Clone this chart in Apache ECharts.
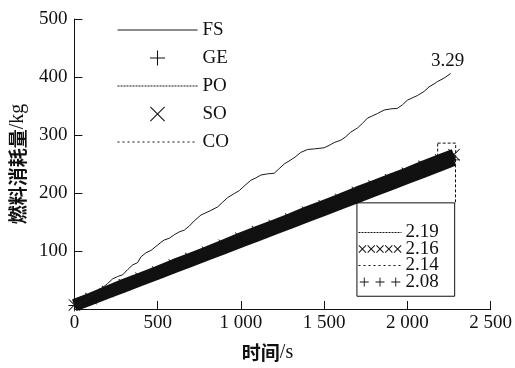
<!DOCTYPE html>
<html>
<head>
<meta charset="utf-8">
<script src="https://cdn.jsdelivr.net/npm/echarts@6/dist/echarts.min.js"></script>
<style>
  html, body { margin: 0; padding: 0; background: #fff; }
  #chart { width: 515px; height: 368px; }
</style>
</head>
<body>
<div id="chart"></div>
<script>
// Fuel consumption over time for five operating strategies
const fsTime = [0, 40, 80, 120, 140, 170, 200, 230, 260, 290, 320, 350, 380, 400, 430, 460, 490, 520, 540,
  570, 600, 630, 660, 690, 720, 760, 790, 820, 860, 890, 920, 960, 990, 1020, 1060, 1090, 1120, 1160, 1200,
  1230, 1260, 1300, 1330, 1360, 1400, 1440, 1470, 1500, 1530, 1560, 1600, 1630, 1660, 1700, 1730, 1760,
  1790, 1820, 1860, 1900, 1940, 1970, 2000, 2030, 2060, 2100, 2130, 2160, 2180, 2220, 2260];
const fsFuel = [4, 10, 16, 27, 33, 37, 44, 52, 56, 59, 68, 76, 80, 90, 97, 101, 108, 115, 119,
  122, 128, 133, 136, 143, 152, 162, 166, 170, 176, 184, 192, 199, 204, 212, 222, 226, 231, 233, 234,
  242, 250, 257, 263, 270, 275, 276, 277, 278, 282, 287, 291, 297, 305, 312, 320, 329,
  333, 337, 343, 345, 346, 352, 360, 364, 368, 375, 383, 388, 392, 398, 406];

const bandTime = [0, 100, 200, 300, 400, 500, 600, 700, 800, 900, 1000, 1100, 1200, 1300, 1400, 1500,
  1600, 1700, 1800, 1900, 2000, 2100, 2200, 2280];
const poFuel = [8, 19, 31, 43, 54, 65, 77, 88, 99, 111, 123, 134, 145, 157, 169, 180, 191, 203, 214, 225, 236, 248, 259, 268];
const soFuel = [7, 18, 30, 42, 53, 64, 76, 87, 98, 110, 122, 133, 144, 155, 167, 178, 189, 201, 212, 223, 234, 246, 257, 266];
const coFuel = [7, 18, 30, 41, 52, 63, 75, 86, 97, 108, 120, 131, 142, 153, 165, 176, 187, 199, 210, 221, 232, 244, 255, 263];
const geFuel = [6, 17, 28, 39, 50, 61, 72, 83, 94, 105, 116, 127, 138, 149, 160, 171, 182, 193, 204, 215, 226, 237, 248, 257];

// consumption rates printed next to each curve
const rates = { FS: '3.29', PO: '2.19', SO: '2.16', CO: '2.14', GE: '2.08' };

const xTickLabels = ['0', '500', '1 000', '1 500', '2 000', '2 500'];
const yTickLabels = ['', '100', '200', '300', '400', '500'];

// close-up frame around the curve ends and the rate box (data units)
const zoomFrame = { t0: 2182, t1: 2290, v0: 258, v1: 286 };
const rateBox = { t0: 1697, t1: 2284, v0: 22, v1: 183 };

const INK = '#111';
const FONT = 'Liberation Serif, Times New Roman, DejaVu Serif, serif';
const CJK = 'Noto Sans CJK SC, sans-serif';

// marker glyphs
const PLUS = 'path://M9.3,0h1.4v9.3h9.3v1.4h-9.3v9.3h-1.4v-9.3h-9.3v-1.4h9.3z';
const CROSS = 'path://M0,1L1,0L10,9L19,0L20,1L11,10L20,19L19,20L10,11L1,20L0,19L9,10Z';
function crossRow(n) {
  let p = 'path://';
  for (let i = 0; i < n; i++) {
    const o = i * 9;
    p += `M${o},0.7L${o + 0.7},0L${o + 4},3.3L${o + 7.3},0L${o + 8},0.7L${o + 4.7},4L${o + 8},7.3L${o + 7.3},8L${o + 4},4.7L${o + 0.7},8L${o},7.3L${o + 3.3},4Z`;
  }
  return p;
}
function plusRow(n) {
  let p = 'path://';
  for (let i = 0; i < n; i++) {
    const o = i * 14;
    p += `M${o + 3.6},0h0.8v3.6h3.6v0.8h-3.6v3.6h-0.8v-3.6h-3.6v-0.8h3.6z`;
  }
  return p;
}

const pairs = (ts, vs) => ts.map((t, i) => [t, vs[i]]);
const lineOnly = {
  itemStyle: { opacity: 0, color: 'rgba(0,0,0,0)', borderWidth: 0 },
  lineStyle: { width: 1 }
};

// axis titles: Chinese part heavier, unit part in the serif face
const nameRich = {
  c: { fontFamily: CJK, fontSize: 19, fontWeight: 'bold', color: INK },
  u: { fontFamily: FONT, fontSize: 20, color: INK }
};

const chart = echarts.init(document.getElementById('chart'), null, { renderer: 'canvas' });

chart.setOption({
  animation: false,
  backgroundColor: '#fff',
  textStyle: { fontFamily: FONT, color: INK },
  grid: { left: 74, right: 24, top: 19, bottom: 59, containLabel: false },
  xAxis: {
    type: 'value', min: 0, max: 2500, interval: 500,
    name: '{c|时间}{u|/s}', nameLocation: 'middle', nameGap: 34,
    nameTextStyle: { rich: nameRich, padding: [0, 30, 0, 0] },
    axisLine: { lineStyle: { color: INK, width: 1 } },
    axisTick: { inside: true, length: 8, lineStyle: { color: INK } },
    axisLabel: { fontSize: 19, color: INK, margin: 5, fontFamily: FONT,
      formatter: v => xTickLabels[Math.round(v / 500)] },
    splitLine: { show: false }
  },
  yAxis: {
    type: 'value', min: 0, max: 500, interval: 100,
    name: '{c|燃料消耗量}{u|/kg}', nameLocation: 'middle', nameGap: 46, nameRotate: 90,
    nameTextStyle: { rich: nameRich },
    axisLine: { show: true, lineStyle: { color: INK, width: 1 } },
    axisTick: { show: true, inside: true, length: 8, lineStyle: { color: INK } },
    axisLabel: { fontSize: 19, color: INK, margin: 7, fontFamily: FONT,
      formatter: v => yTickLabels[Math.round(v / 100)] },
    splitLine: { show: false }
  },
  legend: [
    {
      orient: 'vertical', left: 112, top: 15,
      itemWidth: 80, itemHeight: 15, itemGap: 8,
      textStyle: { fontSize: 19, fontFamily: FONT, color: INK, lineHeight: 20 },
      data: [
        Object.assign({ name: 'FS' }, lineOnly),
        { name: 'GE', icon: PLUS },
        Object.assign({ name: 'PO' }, lineOnly),
        { name: 'SO', icon: CROSS },
        Object.assign({ name: 'CO' }, lineOnly)
      ]
    },
    {
      orient: 'vertical', left: 358, top: 223,
      itemWidth: 43, itemHeight: 9, itemGap: -2.5, padding: 0,
      textStyle: { fontSize: 19, fontFamily: FONT, color: INK, lineHeight: 17, padding: [0, 0, 0, -1] },
      formatter: name => rates[name],
      data: [
        Object.assign({ name: 'PO' }, lineOnly),
        { name: 'SO', icon: crossRow(5) },
        Object.assign({ name: 'CO' }, lineOnly),
        { name: 'GE', icon: plusRow(3) }
      ]
    }
  ],
  series: [
    {
      name: 'GE', type: 'line', z: 2, clip: false,
      data: pairs(bandTime, geFuel),
      symbol: PLUS, symbolSize: 12, showAllSymbol: true,
      itemStyle: { color: INK },
      lineStyle: { color: INK, width: 12, cap: 'butt' }
    },
    {
      name: 'SO', type: 'line', z: 2, clip: false,
      data: pairs(bandTime, soFuel),
      symbol: CROSS, symbolSize: 12, showAllSymbol: true,
      itemStyle: { color: INK },
      lineStyle: { color: INK, width: 12, cap: 'butt' }
    },
    {
      name: 'PO', type: 'line', z: 2, clip: false,
      data: pairs(bandTime, poFuel),
      symbol: 'none',
      itemStyle: { color: INK },
      lineStyle: { color: INK, width: 1, type: [2, 1] }
    },
    {
      name: 'CO', type: 'line', z: 2, clip: false,
      data: pairs(bandTime, coFuel),
      symbol: 'none',
      itemStyle: { color: INK },
      lineStyle: { color: INK, width: 1, type: [2, 3] }
    },
    {
      name: 'FS', type: 'line', z: 3,
      data: pairs(fsTime, fsFuel),
      symbol: 'none',
      itemStyle: { color: '#2a2030' },
      lineStyle: { color: '#1a1a1a', width: 1 },
      markPoint: {
        symbol: 'circle', symbolSize: 0,
        label: { show: true, position: 'top', distance: 3, offset: [-3, 0], fontSize: 19,
          fontFamily: FONT, color: INK, formatter: rates.FS },
        data: [{ coord: [fsTime[fsTime.length - 1], fsFuel[fsFuel.length - 1]] }]
      },
      markArea: {
        silent: true,
        label: { show: false },
        data: [
          [
            { coord: [rateBox.t0, rateBox.v1], itemStyle: { color: '#fff', borderColor: INK, borderWidth: 1 } },
            { coord: [rateBox.t1, rateBox.v0] }
          ],
          [
            { coord: [zoomFrame.t0, zoomFrame.v1], itemStyle: { color: 'rgba(0,0,0,0)', borderColor: INK, borderWidth: 1, borderType: [3, 2] } },
            { coord: [zoomFrame.t1, zoomFrame.v0] }
          ]
        ]
      },
      markLine: {
        silent: true, symbol: 'none',
        label: { show: false },
        lineStyle: { color: INK, width: 1, type: [3, 2] },
        data: [[
          { coord: [zoomFrame.t1, zoomFrame.v0] },
          { coord: [zoomFrame.t1, rateBox.v1] }
        ]]
      }
    }
  ]
});
</script>
</body>
</html>
